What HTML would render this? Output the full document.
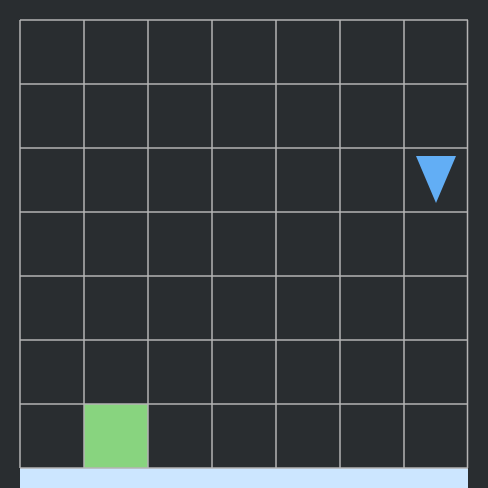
<!DOCTYPE html>
<html><head><meta charset="utf-8"><style>
html,body{margin:0;padding:0;background:#292d30;}
svg{display:block;}
</style></head><body>
<svg id="chart" width="488" height="488">
<rect x="0" y="0" width="488" height="488" fill="#292d30"></rect>
</svg>
<script>
const gridCols = [0,1,2,3,4,5,6];
const gridRows = [0,1,2,3,4,5,6];
const goalCell = [1,6];      // [col,row]
const agentCell = [6,2];     // [col,row]
const cellSize = 64, ox = 20, oy = 20;
const ns = "http://www.w3.org/2000/svg";
const svg = document.getElementById('chart');
function cx(c){return ox + c*cellSize;}
function cy(r){return oy + r*cellSize;}
function mk(tag, attrs){const e=document.createElementNS(ns,tag);for(const k in attrs)e.setAttribute(k,attrs[k]);svg.appendChild(e);return e;}

const bar = mk('rect',{x:20,y:cy(gridRows.length),width:448,height:20,fill:'#cce6ff'});



const g = mk('rect',{x:cx(goalCell[0]),y:cy(goalCell[1]),width:cellSize,height:cellSize,fill:'#88d47f'});



for (let i=0;i<=gridCols.length;i++){
  const x = Math.min(cx(i), 467.5);
  const l = mk('line',{x1:x,y1:20,x2:x,y2:468,stroke:'#b4b4b4','stroke-width':1.5});
  
  
}
for (let j=0;j<=gridRows.length;j++){
  const y = cy(j);
  const l = mk('line',{x1:20,y1:y,x2:468,y2:y,stroke:'#b4b4b4','stroke-width':1.5});
  
  
}

const ax = cx(agentCell[0]), ay = cy(agentCell[1]);
const t = mk('polygon',{points:`${ax+12},${ay+8} ${ax+52},${ay+8} ${ax+32},${ay+55}`,fill:'#62aef5'});


</script>
</body></html>
